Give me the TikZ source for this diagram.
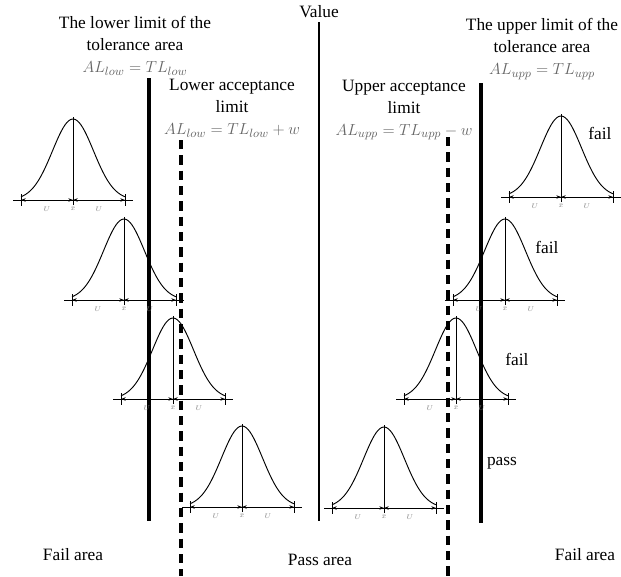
\documentclass[tikz,border=0pt]{standalone}
\usepackage{fontspec}
\setmainfont{Liberation Serif}
\usetikzlibrary{arrows.meta}

\begin{document}
\begin{tikzpicture}[x=0.75pt,y=-0.75pt,
  lbl/.style={font=\fontsize{13}{16.5}\selectfont,align=center,inner sep=1pt},
  eq/.style={text=black!60},
  limit/.style={line width=2.3pt},
  accept/.style={line width=2.3pt,dash pattern=on 7pt off 4.5pt},
  bell/.style={line width=0.7pt},
  dim/.style={{Stealth[length=3.5pt]}-{Stealth[length=3.5pt]},line width=0.7pt},
  tick/.style={line width=0.7pt},
  small/.style={font=\fontsize{5}{6}\selectfont,text=gray,inner sep=0pt}]

  \useasboundingbox (0,0) rectangle (621,576);

  % limit lines
  \draw[limit] (149,78) -- (149,521);
  \draw[accept] (181,140) -- (181,576);
  \draw[line width=1.8pt] (319,22) -- (319,521);
  \draw[accept] (448,137) -- (448,576);
  \draw[limit] (481,83) -- (481,523);

  % distributions
  \foreach \cx/\by [count=\i] in {73/200,124/300,173/399,242/507,561/197,505/300,456/399,384/508}{
    \draw[bell] plot[domain=-52:52,samples=60,smooth]
      ({\cx+\x},{\by-81*exp(-0.5*(\x/20.5)*(\x/20.5))});
    \draw[tick] (\cx-60,\by) -- (\cx+60,\by);
    \draw[tick] (\cx-52,\by-6) -- (\cx-52,\by+6);
    \draw[tick] (\cx+52,\by-6) -- (\cx+52,\by+6);
    \draw[tick] (\cx,\by+5) -- (\cx,\by-83);
    \draw[dim] (\cx-52,\by) -- (\cx,\by);
    \draw[dim] (\cx,\by) -- (\cx+52,\by);
    \node[small] (ul\i) at (\cx-26,\by+9) {$U$};
    \node[small] (xb\i) at (\cx,\by+9) {$\bar{x}$};
    \node[small] (ur\i) at (\cx+26,\by+9) {$U$};
  }

  % titles
  \node[lbl] (value) at (319,12) {Value};
  \node[lbl] (tllow) at (135,46)
    {The lower limit of the\\tolerance area\\\textcolor{black!60}{$AL_{low}=TL_{low}$}};
  \node[lbl] (allow) at (232,108)
    {Lower acceptance\\limit\\\textcolor{black!60}{$AL_{low}=TL_{low}+w$}};
  \node[lbl] (alupp) at (404,110)
    {Upper acceptance\\limit\\\textcolor{black!60}{$AL_{upp}=TL_{upp}-w$}};
  \node[lbl] (tlupp) at (542,49)
    {The upper limit of the\\tolerance area\\\textcolor{black!60}{$AL_{upp}=TL_{upp}$}};

  % results
  \node[lbl] (fail1) at (600,133) {fail};
  \node[lbl] (fail2) at (547,247) {fail};
  \node[lbl] (fail3) at (517,359) {fail};
  \node[lbl] (pass)  at (502,463) {pass};

  % areas
  \node[lbl] (faill) at (73,555)  {Fail area};
  \node[lbl] (passa) at (320,560) {Pass area};
  \node[lbl] (failr) at (585,555) {Fail area};

\end{tikzpicture}
\end{document}
